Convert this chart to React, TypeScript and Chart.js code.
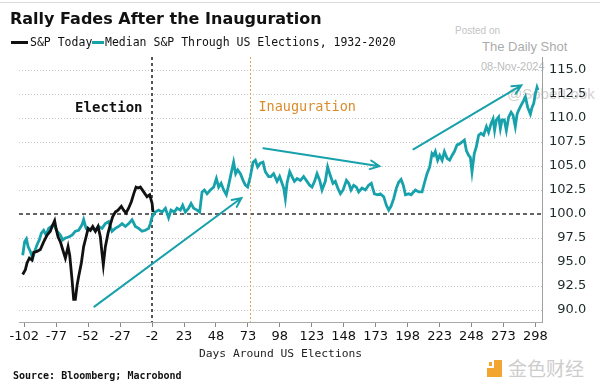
import React, { useEffect, useRef } from "react";
import { Chart, registerables } from "chart.js";

Chart.register(...registerables);

// ---- Data (days around US elections, index level) ----
const todayDays = [
  -103.3, -101.2, -99.9, -98.1, -96.0, -94.7, -92.1, -89.5, -86.9, -84.2,
  -81.7, -80.3, -78.3, -77.2, -75.6, -73.8, -72.0, -69.9, -67.8, -66.5,
  -64.7, -63.4, -62.1, -60.7, -59.5, -57.4, -55.6, -53.7, -52.1, -50.3,
  -48.5, -46.4, -44.3, -42.5, -41.2, -40.2, -38.6, -36.5, -34.7, -32.9,
  -30.8, -28.7, -26.1, -24.3, -22.4, -20.4, -18.2, -16.4, -14.6, -13.0,
  -11.2, -8.6, -6.0, -3.9, -2.0, -1.3,
];
const todayValues = [
  93.7, 94.2, 94.9, 95.4, 95.2, 96.0, 96.1, 96.3, 97.1, 97.8,
  98.2, 98.7, 99.3, 98.5, 97.6, 97.1, 96.3, 95.4, 96.6, 95.7,
  93.2, 91.1, 91.1, 92.6, 93.5, 94.9, 96.6, 97.6, 98.5, 98.3,
  98.7, 98.2, 98.7, 97.6, 95.9, 94.7, 96.6, 98.0, 98.9, 99.7,
  100.2, 100.4, 100.8, 100.4, 100.1, 100.6, 101.3, 102.1, 102.8, 102.7,
  102.8, 102.3, 101.8, 102.0, 101.1, 100.2,
];

const medianDays = [
  -103.3, -101.8, -100.4, -99.1, -97.3, -95.5, -93.9, -92.1, -90.3, -88.7,
  -86.9, -85.0, -83.0, -80.9, -79.1, -76.4, -73.8, -72.0, -69.9, -67.3,
  -64.7, -62.1, -59.5, -56.8, -55.6, -53.7, -51.7, -49.0, -46.4, -43.8,
  -41.2, -38.6, -36.0, -33.4, -30.8, -28.2, -25.5, -22.9, -20.3, -17.7,
  -15.1, -12.5, -9.9, -7.3, -4.7, -3.4, -2.0, 0.5, 3.1, 5.8,
  8.4, 10.9, 12.8, 15.4, 17.5, 20.1, 21.9, 24.0, 26.6, 28.5,
  30.5, 33.2, 35.2, 37.1, 38.9, 41.0, 43.6, 46.2, 48.3, 50.1,
  52.0, 54.0, 56.1, 57.9, 59.8, 61.8, 63.4, 65.0, 67.1, 69.2,
  71.0, 72.8, 74.9, 77.0, 78.8, 80.6, 82.7, 84.8, 86.6, 89.2,
  91.0, 93.1, 95.8, 97.8, 99.7, 101.0, 102.3, 103.6, 105.7, 107.5,
  109.4, 111.5, 114.1, 116.6, 118.7, 121.3, 123.2, 125.2, 127.1, 129.2,
  131.0, 133.6, 135.4, 137.5, 139.6, 141.4, 143.3, 145.4, 147.5, 150.1,
  151.9, 153.7, 155.8, 157.9, 159.7, 162.3, 164.9, 167.5, 169.6, 172.0,
  174.6, 176.7, 179.3, 181.4, 183.2, 185.0, 187.1, 189.2, 191.0, 192.9,
  194.6, 196.3, 198.8, 200.7, 204.1, 206.7, 209.3, 211.1, 213.2, 215.3,
  217.1, 218.4, 219.7, 221.5, 223.1, 225.0, 226.8, 228.9, 230.9, 232.8,
  234.6, 236.7, 238.7, 240.6, 242.4, 244.0, 245.8, 247.1, 248.4, 250.2,
  251.8, 253.6, 255.5, 257.5, 259.7, 261.4, 263.3, 264.9, 266.1, 267.5,
  269.3, 270.6, 271.9, 273.7, 275.3, 277.1, 279.0, 280.5, 282.3, 283.7,
  284.9, 286.8, 288.8, 290.2, 292.0, 294.1, 295.4, 296.7, 298.0, 299.3,
  300.1,
];
const medianValues = [
  95.7, 97.1, 97.4, 96.6, 96.1, 95.4, 96.1, 96.8, 97.3, 98.0,
  98.3, 97.8, 98.5, 98.7, 98.9, 98.2, 97.8, 97.3, 97.5, 97.6,
  97.8, 98.2, 98.3, 98.9, 99.4, 98.5, 98.3, 98.5, 98.3, 98.7,
  98.5, 99.0, 99.2, 98.2, 98.5, 98.7, 99.0, 98.7, 99.0, 99.4,
  98.7, 98.5, 98.2, 98.3, 98.5, 99.0, 99.7, 100.2, 100.4, 100.2,
  100.6, 99.6, 100.4, 100.2, 100.6, 100.4, 100.9, 100.2, 100.6, 101.1,
  100.6, 100.4, 100.2, 102.3, 102.5, 102.1, 102.5, 102.8, 103.7, 102.8,
  103.2, 102.5, 102.0, 103.0, 104.2, 105.4, 104.2, 104.6, 104.2, 103.5,
  103.0, 102.8, 103.9, 105.4, 105.6, 104.9, 105.3, 105.4, 104.4, 103.9,
  103.9, 104.2, 103.4, 103.9, 103.2, 102.7, 101.6, 103.2, 104.4, 103.9,
  103.4, 103.7, 103.5, 103.9, 103.5, 103.0, 102.8, 103.4, 104.2, 103.5,
  102.5, 103.4, 104.9, 104.0, 103.2, 103.4, 102.7, 102.1, 102.5, 103.5,
  103.2, 102.5, 103.0, 102.8, 102.3, 102.7, 102.5, 103.0, 103.2, 102.1,
  102.0, 102.1, 101.8, 100.9, 100.4, 100.8, 101.6, 102.7, 103.3, 103.6,
  103.0, 102.0, 102.1, 102.0, 102.5, 102.3, 102.3, 103.2, 104.2, 104.9,
  106.3, 106.1, 106.5, 105.6, 106.1, 105.6, 106.5, 105.8, 105.6, 106.1,
  106.5, 107.2, 107.3, 107.5, 107.7, 106.6, 106.1, 105.9, 104.4, 106.3,
  107.0, 108.2, 108.4, 108.2, 109.1, 108.5, 109.4, 109.9, 108.7, 109.8,
  110.1, 108.9, 109.8, 109.8, 108.7, 110.1, 110.6, 110.3, 109.1, 110.4,
  110.8, 111.3, 111.8, 112.2, 111.1, 110.4, 111.1, 111.5, 112.5, 113.2,
  112.9,
];

const xTickValues = [-102, -77, -52, -27, -2, 23, 48, 73, 98, 123, 148, 173, 198, 223, 248, 273, 298];
const yTickValues = [90, 92.5, 95, 97.5, 100, 102.5, 105, 107.5, 110, 112.5, 115];
const xMin = -106.2;
const xMax = 303.2;
const yMin = 88.75;
const yMax = 116.35;
const baselineValue = 100;
const electionDay = -2;
const inaugurationDay = 74.5;

// trend arrows: [fromDay, fromValue, toDay, toValue]
const arrowFromDays = [-47.2, 85.1, 202.5];
const arrowFromValues = [90.35, 106.85, 106.74];
const arrowToDays = [67.9, 175.9, 287.0];
const arrowToValues = [101.66, 104.98, 113.4];

const electionLabel = "Election";
const electionLabelAt = [-35.9, 111.0];
const inaugurationLabel = "Inauguration";
const inaugurationLabelAt = [81.2, 111.1];

const titleText = "Rally Fades After the Inauguration";
const seriesToday = "S&P Today";
const seriesMedian = "Median S&P Through US Elections, 1932-2020";
const xAxisTitle = "Days Around US Elections";
const sourceText = "Source: Bloomberg; Macrobond";

const TEAL = "#17a1ab";
const ORANGE = "#dc8b2a";

export default function App() {
  const ref = useRef<HTMLCanvasElement | null>(null);

  useEffect(() => {
    const canvas = ref.current;
    if (!canvas) return;

    const overlay = {
      id: "overlay",
      beforeDatasetsDraw(chart: any) {
        const { ctx, chartArea: a, scales } = chart;
        const x = scales.x;
        const y = scales.y;
        ctx.save();
        ctx.strokeStyle = "#c6c6c6";
        ctx.lineWidth = 1;
        ctx.setLineDash([1, 2]);
        yTickValues.forEach((v) => {
          if (v === baselineValue) return;
          const py = Math.round(y.getPixelForValue(v)) + 0.5;
          ctx.beginPath();
          ctx.moveTo(a.left, py);
          ctx.lineTo(a.right, py);
          ctx.stroke();
        });
        ctx.strokeStyle = "#333";
        ctx.lineWidth = 1.5;
        ctx.setLineDash([4, 3]);
        const by = Math.round(y.getPixelForValue(baselineValue));
        ctx.beginPath();
        ctx.moveTo(a.left, by);
        ctx.lineTo(a.right, by);
        ctx.stroke();
        ctx.strokeStyle = "#555";
        ctx.lineWidth = 2;
        ctx.setLineDash([3, 3]);
        const ex = Math.round(x.getPixelForValue(electionDay));
        ctx.beginPath();
        ctx.moveTo(ex, a.top);
        ctx.lineTo(ex, a.bottom);
        ctx.stroke();
        ctx.strokeStyle = "#e4a458";
        ctx.lineWidth = 1;
        ctx.setLineDash([2, 2]);
        const ix = Math.round(x.getPixelForValue(inaugurationDay)) + 0.5;
        ctx.beginPath();
        ctx.moveTo(ix, a.top);
        ctx.lineTo(ix, a.bottom);
        ctx.stroke();
        ctx.restore();
      },
      afterDatasetsDraw(chart: any) {
        const { ctx, scales } = chart;
        const x = scales.x;
        const y = scales.y;
        ctx.save();
        ctx.strokeStyle = TEAL;
        ctx.lineWidth = 2;
        ctx.lineCap = "round";
        ctx.setLineDash([]);
        for (let i = 0; i < arrowFromDays.length; i++) {
          const x1 = x.getPixelForValue(arrowFromDays[i]);
          const y1 = y.getPixelForValue(arrowFromValues[i]);
          const x2 = x.getPixelForValue(arrowToDays[i]);
          const y2 = y.getPixelForValue(arrowToValues[i]);
          const ang = Math.atan2(y2 - y1, x2 - x1);
          const L = 10;
          const s = 0.45;
          ctx.beginPath();
          ctx.moveTo(x1, y1);
          ctx.lineTo(x2, y2);
          ctx.moveTo(x2 - L * Math.cos(ang - s), y2 - L * Math.sin(ang - s));
          ctx.lineTo(x2, y2);
          ctx.lineTo(x2 - L * Math.cos(ang + s), y2 - L * Math.sin(ang + s));
          ctx.stroke();
        }
        ctx.textBaseline = "middle";
        ctx.font = 'bold 14px "DejaVu Sans Mono"';
        ctx.fillStyle = "#111";
        ctx.textAlign = "center";
        ctx.fillText(electionLabel, x.getPixelForValue(electionLabelAt[0]), y.getPixelForValue(electionLabelAt[1]));
        ctx.font = '13.5px "DejaVu Sans Mono"';
        ctx.fillStyle = ORANGE;
        ctx.textAlign = "left";
        ctx.fillText(inaugurationLabel, x.getPixelForValue(inaugurationLabelAt[0]), y.getPixelForValue(inaugurationLabelAt[1]));
        ctx.restore();
      },
    };

    const chart = new Chart(canvas, {
      type: "line",
      data: {
        datasets: [
          {
            label: seriesToday,
            data: todayDays.map((d, i) => ({ x: d, y: todayValues[i] })),
            borderColor: "#111",
            borderWidth: 2.8,
            pointRadius: 0,
            tension: 0,
            order: 0,
          },
          {
            label: seriesMedian,
            data: medianDays.map((d, i) => ({ x: d, y: medianValues[i] })),
            borderColor: TEAL,
            borderWidth: 2.8,
            pointRadius: 0,
            tension: 0,
            order: 1,
          },
        ],
      },
      options: {
        responsive: false,
        animation: false,
        events: [],
        layout: { padding: { left: 19, right: 13.8, top: 57, bottom: 22.8 } },
        plugins: {
          legend: { display: false },
          title: { display: false },
          tooltip: { enabled: false },
        },
        scales: {
          x: {
            type: "linear",
            min: xMin,
            max: xMax,
            afterBuildTicks: (s: any) => {
              s.ticks = xTickValues.map((v) => ({ value: v }));
            },
            afterFit: (s: any) => {
              s.height = 39.2;
            },
            ticks: {
              font: { family: "DejaVu Sans", size: 13 },
              color: "#111",
              padding: 2,
              maxRotation: 0,
              autoSkip: false,
              callback: (v: any) => String(v),
            },
            grid: { drawOnChartArea: false, drawTicks: true, tickLength: 5, color: "#888" },
            border: { display: true, color: "#aaa", width: 1 },
            title: {
              display: true,
              text: xAxisTitle,
              font: { family: "DejaVu Sans Mono", size: 11.3 },
              color: "#222",
              padding: { top: 3, bottom: 0 },
            },
          },
          y: {
            type: "linear",
            position: "right",
            min: yMin,
            max: yMax,
            afterBuildTicks: (s: any) => {
              s.ticks = yTickValues.map((v) => ({ value: v }));
            },
            afterFit: (s: any) => {
              s.width = 44.2;
            },
            ticks: {
              font: { family: "DejaVu Sans", size: 13 },
              color: "#1d2a2a",
              padding: 7,
              crossAlign: "far",
              callback: (v: any) => Number(v).toFixed(1),
            },
            grid: { display: false, drawTicks: false },
            border: { display: true, color: "#a0a0a0", width: 1 },
          },
        },
      },
      plugins: [overlay],
    } as any);

    return () => chart.destroy();
  }, []);

  const mono = '"DejaVu Sans Mono", monospace';
  return (
    <div
      style={{
        position: "absolute",
        left: 0,
        top: 0,
        width: 600,
        height: 384,
        background: "#fff",
        overflow: "hidden",
        fontFamily: '"DejaVu Sans", sans-serif',
      }}
    >
      <div style={{ position: "absolute", left: 0, top: 2, width: 600, height: 1, background: "#dcdcdc" }} />
      <div style={{ position: "absolute", left: 455, top: 25, fontSize: 10, lineHeight: "12px", color: "#c4c4c4", fontFamily: '"Liberation Sans", Arial' }}>
        Posted on
      </div>
      <div style={{ position: "absolute", left: 482, top: 39, fontSize: 13, lineHeight: "16px", color: "#acacac", fontFamily: '"Liberation Sans", Arial' }}>
        The Daily Shot
      </div>
      <div style={{ position: "absolute", left: 481, top: 59, fontSize: 11, lineHeight: "14px", color: "#bdbdbd", fontFamily: '"Liberation Sans", Arial' }}>
        08-Nov-2024
      </div>
      <div style={{ position: "absolute", left: 507, top: 85, fontSize: 15, lineHeight: "18px", color: "#d2d2d2", fontFamily: '"Liberation Sans", Arial' }}>
        @SoberLook
      </div>
      <div style={{ position: "absolute", left: 487, top: 360, width: 15, height: 17, background: "#f2a630" }}>
        <div style={{ position: "absolute", left: 0, top: 0, width: 7, height: 8, background: "#fff" }} />
        <div style={{ position: "absolute", left: 2, top: 2, width: 3, height: 4, background: "#f2a630" }} />
      </div>
      <div style={{ position: "absolute", left: 508, top: 356, fontSize: 19, lineHeight: "24px", color: "#cdcdcd", fontFamily: '"Noto Sans CJK SC"' }}>
        金色财经
      </div>

      <canvas ref={ref} width={600} height={384} style={{ position: "absolute", left: 0, top: 0 }} />

      <div style={{ position: "absolute", left: 10, top: 9, fontSize: 16, lineHeight: "20px", fontWeight: "bold", color: "#111", whiteSpace: "nowrap" }}>
        {titleText}
      </div>
      <div style={{ position: "absolute", left: 11, top: 41, width: 17, height: 3, background: "#111" }} />
      <div style={{ position: "absolute", left: 30, top: 35, fontSize: 11.5, lineHeight: "14px", fontFamily: mono, color: "#111", whiteSpace: "nowrap" }}>
        {seriesToday}
      </div>
      <div style={{ position: "absolute", left: 92, top: 41, width: 12, height: 3, background: TEAL }} />
      <div style={{ position: "absolute", left: 105, top: 35, fontSize: 11.5, lineHeight: "14px", fontFamily: mono, color: "#111", whiteSpace: "nowrap" }}>
        {seriesMedian}
      </div>
      <div style={{ position: "absolute", left: 13, top: 370, fontSize: 10, lineHeight: "12px", fontFamily: mono, fontWeight: "bold", color: "#111", whiteSpace: "nowrap" }}>
        {sourceText}
      </div>
    </div>
  );
}
